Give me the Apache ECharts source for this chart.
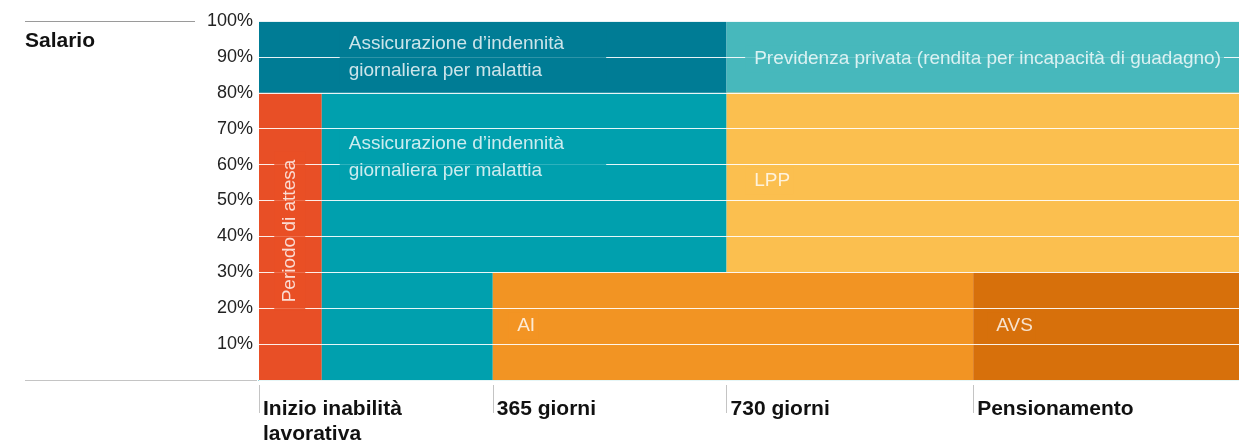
<!DOCTYPE html>
<html>
<head>
<meta charset="utf-8">
<script src="https://cdn.jsdelivr.net/npm/echarts@6/dist/echarts.min.js"></script>
<style>
  html, body { margin: 0; padding: 0; background: #fff; }
  #chart { width: 1239px; height: 443px; }
</style>
</head>
<body>
<div id="chart"></div>
<script>
// tempo in giorni dall'inizio dell'inabilità, quota di salario in %
var dayMax = 1530;
var tickDays = [0, 365, 730, 1115];
var tickLabels = ['Inizio inabilità\nlavorativa', '365 giorni', '730 giorni', 'Pensionamento'];
var yTicks = [10, 20, 30, 40, 50, 60, 70, 80, 90, 100];

// blocchi: [giorno inizio, giorno fine, % da, % a]
var blockNames = ['Periodo di attesa', 'Indennità giornaliera', 'Indennità giornaliera', 'Indennità giornaliera (sopra 80%)',
                  'Previdenza privata', 'LPP', 'AI', 'AVS'];
var blockStart = [0, 98, 98, 0, 730, 730, 365, 1115];
var blockEnd   = [98, 730, 365, 730, 1530, 1530, 1115, 1530];
var blockFrom  = [0, 30, 0, 80, 80, 30, 0, 0];
var blockTo    = [80, 80, 30, 100, 100, 80, 30, 30];
var blockColors = ['#e84f26', '#00a0ae', '#00a0ae', '#007c95', '#47b8bc', '#fbbf4f', '#f29423', '#d7700b'];

// etichette dentro i blocchi
var labelTexts = ['Assicurazione d’indennità\ngiornaliera per malattia', 'Assicurazione d’indennità\ngiornaliera per malattia',
                  'Previdenza privata (rendita per incapacità di guadagno)', 'LPP', 'Periodo di attesa', 'AI', 'AVS'];
var labelDay = [126, 126, 759, 759, 48, 389, 1137];
var labelPct = [90, 62, 89.5, 55.5, 41.5, 15, 15];
var labelBg = ['#007c95', '#00a0ae', '#47b8bc', '#fbbf4f', '#e84f26', '#f29423', '#d7700b'];

var chart = echarts.init(document.getElementById('chart'));

var blockData = blockStart.map(function (s, i) {
    return { value: [s, blockEnd[i], blockFrom[i], blockTo[i]], itemStyle: { color: blockColors[i] }, name: blockNames[i] };
});

var labelData = labelTexts.map(function (t, i) {
    var rotated = i === 4;
    return {
        value: [labelDay[i], labelPct[i]],
        name: t,
        label: rotated ? {
            rotate: 90, align: 'center', backgroundColor: labelBg[i], padding: [5, 8, 6, 8], lineHeight: 20
        } : {
            backgroundColor: labelBg[i],
            padding: i < 2 ? [0, 42, 0, 9] : [0, 3, 0, 9]
        }
    };
});

var font = '"Liberation Sans", Arial, sans-serif';

chart.setOption({
    animation: false,
    textStyle: { fontFamily: font },
    grid: { left: 259, right: 0, top: 21, bottom: 63, outerBoundsMode: 'none', containLabel: false },
    xAxis: [{
        type: 'value', min: 0, max: dayMax,
        axisLine: { show: true, lineStyle: { color: '#00a0ae', width: 1 } },
        axisTick: { show: false }, axisLabel: { show: false }, splitLine: { show: false }
    }, {
        type: 'value', min: 0, max: dayMax, position: 'bottom', offset: 5,
        axisLine: { show: false },
        splitLine: { show: false },
        axisTick: { show: true, length: 28, customValues: tickDays, lineStyle: { color: '#c4c4c4', width: 1 } },
        axisLabel: {
            show: true, customValues: tickDays, margin: 12,
            align: 'left', verticalAlign: 'top', padding: [0, 0, 0, 4],
            fontFamily: font, fontSize: 21, fontWeight: 'bold', color: '#111', lineHeight: 25,
            formatter: function (v) {
                var k = tickDays.indexOf(v);
                return k >= 0 ? tickLabels[k] : '';
            }
        }
    }],
    yAxis: {
        type: 'value', min: 0, max: 100, interval: 10, z: 3,
        axisLine: { show: false }, axisTick: { show: false },
        splitLine: { show: true, lineStyle: { color: 'rgba(255,255,255,0.9)', width: 1 } },
        axisLabel: {
            margin: 6, fontFamily: font, fontSize: 18, color: '#222',
            formatter: function (v) { return yTicks.indexOf(v) >= 0 ? v + '%' : ''; }
        }
    },
    graphic: [
        { type: 'line', shape: { x1: 25, y1: 21.5, x2: 195, y2: 21.5 }, style: { stroke: '#9a9a9a', lineWidth: 1 } },
        { type: 'line', shape: { x1: 25, y1: 380.5, x2: 257, y2: 380.5 }, style: { stroke: '#c4c4c4', lineWidth: 1 } },
        { type: 'text', left: 25, top: 31, style: { text: 'Salario', font: 'bold 21px ' + font, fill: '#111' } }
    ],
    series: [{
        type: 'custom',
        z: 2,
        xAxisIndex: 0,
        renderItem: function (params, api) {
            var p0 = api.coord([api.value(0), api.value(3)]);
            var p1 = api.coord([api.value(1), api.value(2)]);
            return {
                type: 'rect',
                shape: { x: p0[0], y: p0[1], width: p1[0] - p0[0], height: p1[1] - p0[1] },
                style: api.style()
            };
        },
        encode: { x: [0, 1], y: [2, 3] },
        data: blockData
    }, {
        type: 'scatter',
        z: 5,
        xAxisIndex: 0,
        symbolSize: 1,
        itemStyle: { color: 'transparent' },
        label: {
            show: true, position: 'inside', align: 'left', verticalAlign: 'middle',
            fontFamily: font, fontSize: 19, color: '#fff', lineHeight: 27,
            formatter: function (p) { return p.name; }
        },
        data: labelData
    }]
});
</script>
</body>
</html>
